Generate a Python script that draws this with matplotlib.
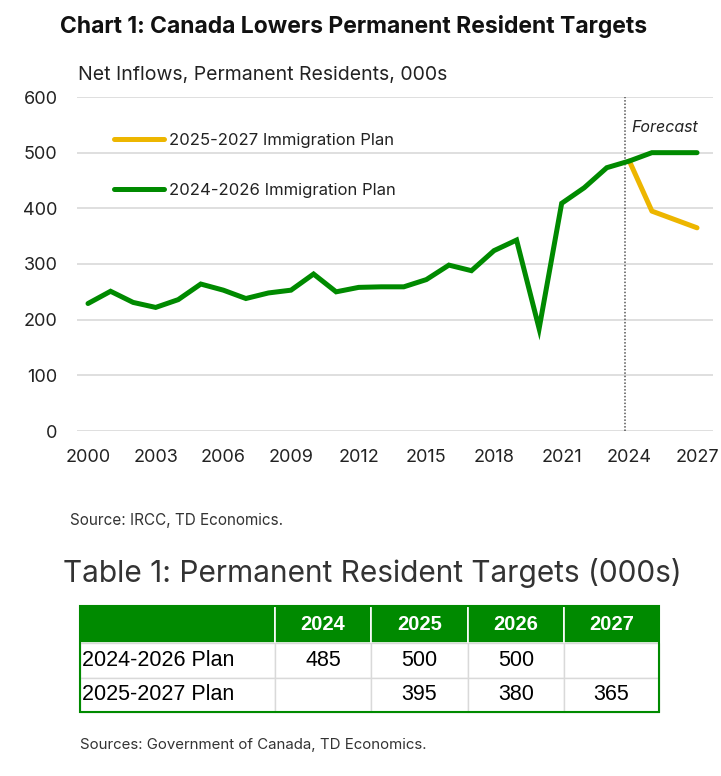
import matplotlib.pyplot as plt
from matplotlib.patches import Rectangle

# 数値データ（チャートから読み取り）
years = list(range(2000, 2028))
plan_2024_2026 = [229, 251, 231, 222, 236, 264, 253, 238, 248, 253,
                  282, 250, 258, 259, 259, 272, 298, 288, 324, 343,
                  184, 409, 437, 473, 485, 500, 500, 500]
plan_years_2025 = [2024, 2025, 2026, 2027]
plan_2025_2027 = [485, 395, 380, 365]
tick_years = list(range(2000, 2028, 3))

table_cols = ["", "2024", "2025", "2026", "2027"]
table_rows = [["2024-2026 Plan", "485", "500", "500", ""],
              ["2025-2027 Plan", "", "395", "380", "365"]]

GREEN = "#008A00"
YELLOW = "#EDB600"
W, H = 721, 776

plt.rcParams['font.family'] = ['Inter', 'DejaVu Sans']
fig = plt.figure(figsize=(W / 100, H / 100), dpi=100)

# チャート領域
ax = fig.add_axes([77 / W, 1 - 431 / H, 636 / W, 334 / H])
ax.plot(plan_years_2025, plan_2025_2027, color=YELLOW, lw=3.6,
        solid_capstyle='round', label="2025-2027 Immigration Plan", zorder=3)
ax.plot(years, plan_2024_2026, color=GREEN, lw=3.6,
        solid_capstyle='round', solid_joinstyle='miter',
        label="2024-2026 Immigration Plan", zorder=4)
ax.set_xlim(1999.512, 2027.709)
ax.set_ylim(0, 600)
ax.set_yticks(range(0, 601, 100))
ax.set_xticks(tick_years)
ax.yaxis.grid(True, color="#D9D9D9", lw=1.2)
ax.set_axisbelow(True)
for s in ax.spines.values():
    s.set_visible(False)
ax.tick_params(length=0, labelsize=13, colors="#222222")
ax.tick_params(axis='y', pad=14)
ax.tick_params(axis='x', pad=13)
ax.axvline(2023.8, color="#555555", lw=1.1, ls=(0, (1, 1.2)), zorder=2)
ax.text(2024.1, 545, "Forecast", fontsize=11.5, style='italic', color="#222222",
        ha='left', va='center')

leg = ax.legend(loc='upper left', bbox_to_anchor=(0.035, 0.937), frameon=False,
                fontsize=12, handlelength=3.0, handletextpad=0.3,
                labelspacing=2.1, labelcolor="#222222")

fig.text(354 / W, 1 - 27 / H, "Chart 1: Canada Lowers Permanent Resident Targets",
         ha='center', va='center', fontsize=16.5, fontweight='bold', color="#111111")
fig.text(78 / W, 1 - 75 / H, "Net Inflows, Permanent Residents, 000s",
         ha='left', va='center', fontsize=14, color="#222222")
fig.text(70 / W, 1 - 520 / H, "Source: IRCC, TD Economics.",
         ha='left', va='center', fontsize=11, color="#333333")
fig.text(63 / W, 1 - 573 / H, "Table 1: Permanent Resident Targets (000s)",
         ha='left', va='center', fontsize=21.5, color="#333333")
fig.text(80 / W, 1 - 745 / H, "Sources: Government of Canada, TD Economics.",
         ha='left', va='center', fontsize=10.8, color="#333333")

# 表
tax = fig.add_axes([80 / W, 1 - 712 / H, 579 / W, 106 / H])
tax.axis('off')
widths = [195, 96, 97, 96, 95]
tot = sum(widths)
tbl = tax.table(cellText=table_rows, colLabels=table_cols,
                colWidths=[w / tot for w in widths], bbox=[0, 0, 1, 1],
                cellLoc='center')
tbl.auto_set_font_size(False)
for (r, c), cell in tbl.get_celld().items():
    cell.PAD = 0.01
    if r == 0:
        cell.set_facecolor(GREEN)
        cell.set_edgecolor("white")
        cell.set_linewidth(1.2)
        cell.get_text().set_color("white")
        cell.get_text().set_fontweight('bold')
        cell.get_text().set_fontsize(14.5)
        cell.get_text().set_family(['Liberation Sans'])
        cell.set_height(37 / 106)
    else:
        cell.set_facecolor("white")
        cell.set_edgecolor("#D9D9D9")
        cell.set_linewidth(1.0)
        cell.get_text().set_fontsize(15.5)
        cell.get_text().set_family(['Liberation Sans'])
        cell.get_text().set_color("black")
        cell.set_height(34.5 / 106)
        if c == 0:
            cell.get_text().set_ha('left')
            cell._loc = 'left'
tax.add_patch(Rectangle((0, 0), 1, 1, transform=tax.transAxes, fill=False,
                        edgecolor=GREEN, lw=1.5, zorder=10, clip_on=False))

fig.savefig("out.png", dpi=100)
